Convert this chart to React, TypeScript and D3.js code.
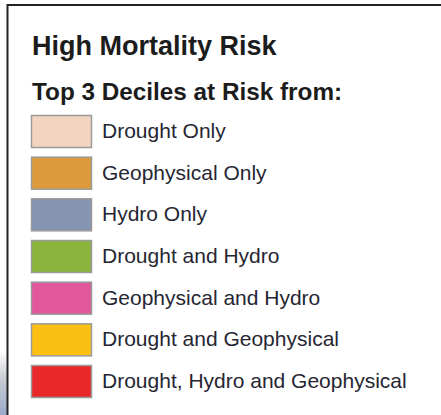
import React, { useEffect, useRef } from "react";
import * as d3 from "d3";

const title = "High Mortality Risk";
const subtitle = "Top 3 Deciles at Risk from:";

const categories = [
  "Drought Only",
  "Geophysical Only",
  "Hydro Only",
  "Drought and Hydro",
  "Geophysical and Hydro",
  "Drought and Geophysical",
  "Drought, Hydro and Geophysical",
];

const colors = [
  "#f2d4c1",
  "#dc9a3a",
  "#8594b0",
  "#8ab43c",
  "#e0579b",
  "#fbc013",
  "#e8282a",
];

const width = 441;
const height = 415;

export default function App() {
  const ref = useRef<SVGSVGElement>(null);

  useEffect(() => {
    const svg = d3.select(ref.current);
    svg.selectAll("*").remove();

    const font = "'Liberation Sans', Arial, sans-serif";

    // bit of map peeking out on the left
    const defs = svg.append("defs");
    const grad = defs
      .append("linearGradient")
      .attr("id", "edge")
      .attr("x1", 0)
      .attr("y1", 0)
      .attr("x2", 0)
      .attr("y2", 1);
    grad.append("stop").attr("offset", "0%").attr("stop-color", "#ffffff");
    grad.append("stop").attr("offset", "45%").attr("stop-color", "#c9ccd3");
    grad.append("stop").attr("offset", "100%").attr("stop-color", "#9aaacb");
    svg
      .append("rect")
      .attr("x", 0)
      .attr("y", 350)
      .attr("width", 7)
      .attr("height", height - 350)
      .attr("fill", "url(#edge)");

    // frame
    svg
      .append("path")
      .attr("d", `M7.5,${height} L7.5,5 L${width},5`)
      .attr("fill", "none")
      .attr("stroke", "#222")
      .attr("stroke-width", 2);

    svg
      .append("text")
      .attr("x", 32)
      .attr("y", 55)
      .attr("font-family", font)
      .attr("font-weight", "bold")
      .attr("font-size", 27)
      .attr("fill", "#1c1c1c")
      .text(title);

    svg
      .append("text")
      .attr("x", 32)
      .attr("y", 100)
      .attr("font-family", font)
      .attr("font-weight", "bold")
      .attr("font-size", 24.3)
      .attr("fill", "#1c1c1c")
      .text(subtitle);

    const y = d3.scalePoint<string>().domain(categories).range([115, 365]);
    const color = d3.scaleOrdinal<string, string>().domain(categories).range(colors);
    const boxH = 32;

    const rows = svg
      .append("g")
      .selectAll("g")
      .data(categories)
      .join("g")
      .attr("transform", (d) => `translate(0,${y(d)})`);

    rows
      .append("rect")
      .attr("x", 31.5)
      .attr("y", 0.5)
      .attr("width", 60)
      .attr("height", boxH)
      .attr("fill", (d) => color(d))
      .attr("stroke", "#9a9a9a")
      .attr("stroke-width", 1.5);

    rows
      .append("text")
      .attr("x", 102)
      .attr("y", boxH / 2 + 7)
      .attr("font-family", font)
      .attr("font-size", 21)
      .attr("fill", "#262633")
      .text((d) => d);
  }, []);

  return (
    <svg
      ref={ref}
      width={width}
      height={height}
      style={{ position: "absolute", left: 0, top: 0, background: "#fff" }}
    />
  );
}
